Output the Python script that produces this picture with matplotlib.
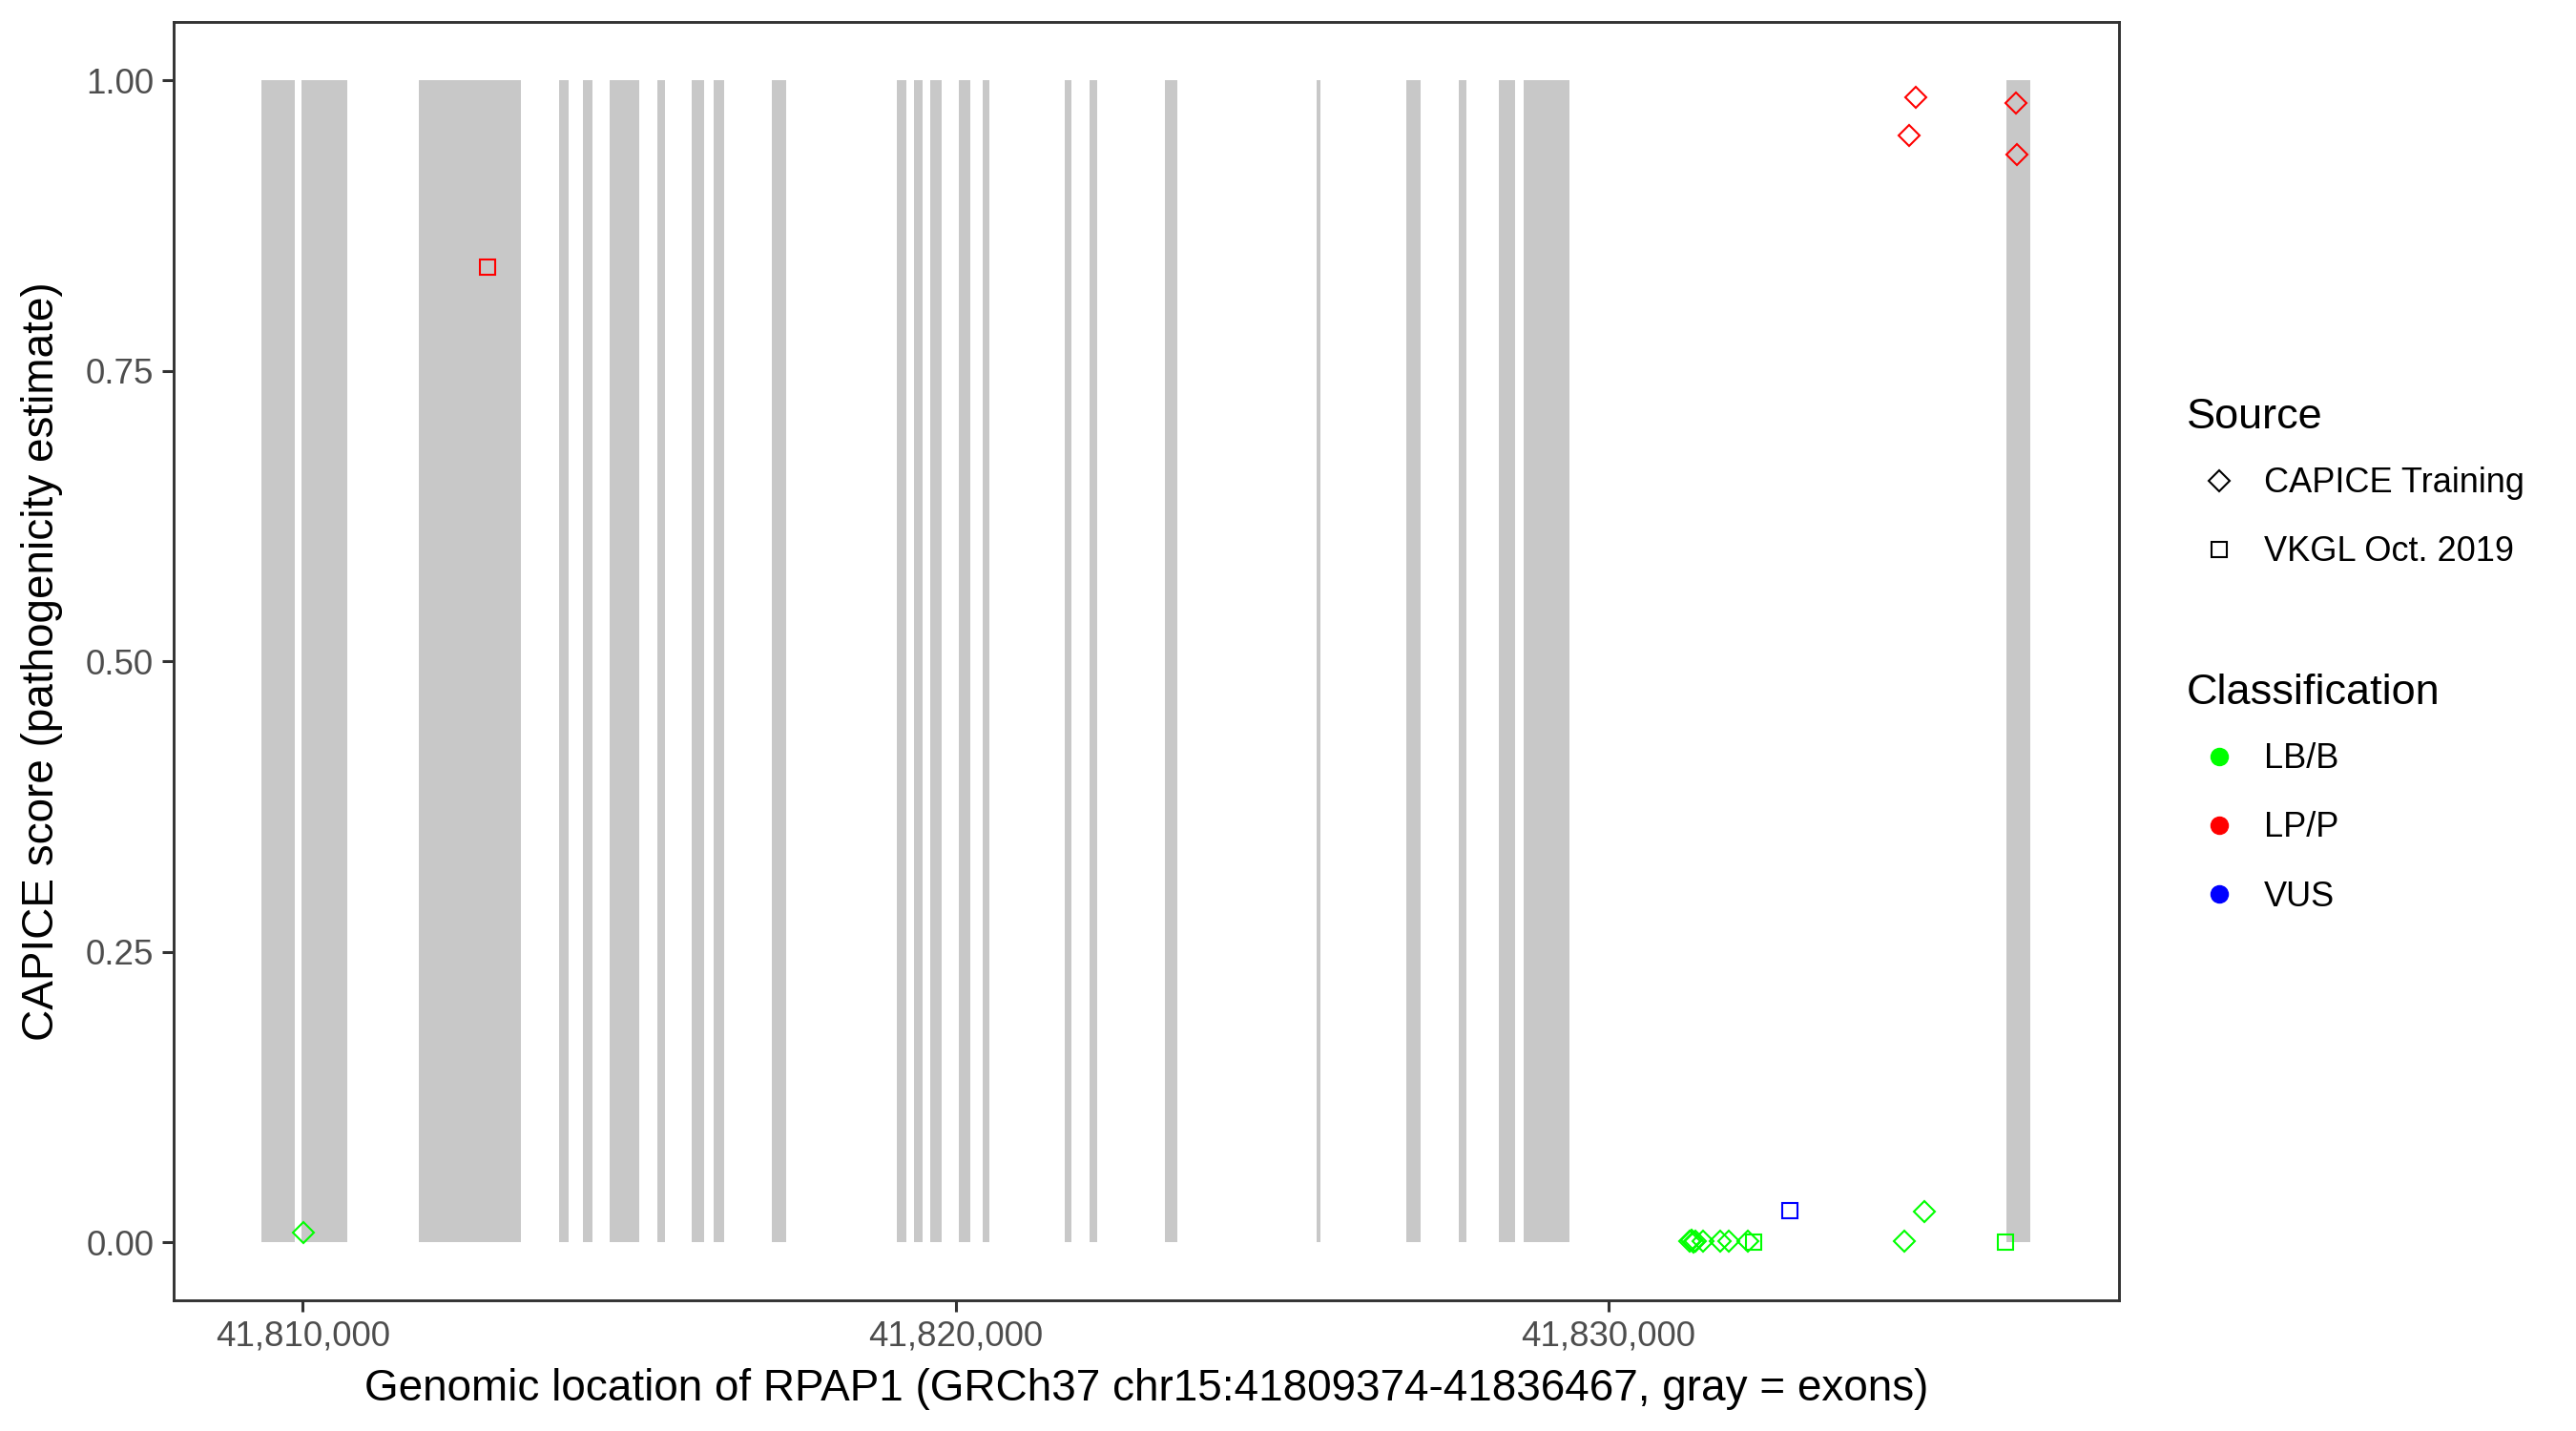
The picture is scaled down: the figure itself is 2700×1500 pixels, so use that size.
import numpy as np
import matplotlib
matplotlib.use("Agg")
import matplotlib.pyplot as plt
from matplotlib.lines import Line2D
from matplotlib.ticker import FuncFormatter

plt.rcParams['font.family'] = ['Liberation Sans', 'DejaVu Sans']

# exons of RPAP1 (GRCh37)
exon_start = [41809374, 41809988, 41811780, 41813924, 41814289, 41814699, 41815429,
              41815958, 41816290, 41817182, 41819098, 41819358, 41819619, 41820055,
              41820420, 41821666, 41822057, 41823210, 41825530, 41826905, 41827710,
              41828320, 41828701, 41836104]
exon_end = [41809883, 41810685, 41813345, 41814074, 41814439, 41815156, 41815547,
            41816153, 41816453, 41817404, 41819254, 41819489, 41819794, 41820219,
            41820524, 41821769, 41822174, 41823399, 41825588, 41827127, 41827822,
            41828566, 41829400, 41836467]

# variants
var_pos = [41810018, 41812829, 41831250, 41831270, 41831300, 41831330, 41831445,
           41831708, 41831844, 41832136, 41832223, 41832784, 41834540, 41834837,
           41836077, 41834705, 41834603, 41836248, 41836263]
var_score = [0.008, 0.839, 0.001, 0.002, 0.000, 0.001, 0.001,
             0.001, 0.001, 0.001, 0.000, 0.027, 0.001, 0.026,
             0.000, 0.985, 0.952, 0.980, 0.936]
var_source = ['CAPICE Training', 'VKGL Oct. 2019', 'CAPICE Training', 'CAPICE Training',
              'CAPICE Training', 'CAPICE Training', 'CAPICE Training', 'CAPICE Training',
              'CAPICE Training', 'CAPICE Training', 'VKGL Oct. 2019', 'VKGL Oct. 2019',
              'CAPICE Training', 'CAPICE Training', 'VKGL Oct. 2019', 'CAPICE Training',
              'CAPICE Training', 'CAPICE Training', 'CAPICE Training']
var_class = ['LB/B', 'LP/P', 'LB/B', 'LB/B', 'LB/B', 'LB/B', 'LB/B',
             'LB/B', 'LB/B', 'LB/B', 'LB/B', 'VUS', 'LB/B', 'LB/B',
             'LB/B', 'LP/P', 'LP/P', 'LP/P', 'LP/P']

sources = ['CAPICE Training', 'VKGL Oct. 2019']
classes = ['LB/B', 'LP/P', 'VUS']
class_colors = {'LB/B': '#00FF00', 'LP/P': '#FF0000', 'VUS': '#0000FF'}
source_markers = {'CAPICE Training': 'D', 'VKGL Oct. 2019': 's'}
source_size = {'CAPICE Training': 11.5, 'VKGL Oct. 2019': 12}

gene_start, gene_end = 41809374, 41836467

fig = plt.figure(figsize=(27, 15), dpi=100)
ax = fig.add_axes([0.0673, 0.0913, 0.7553, 0.8933])

# exons as gray bands
starts = np.array(exon_start)
ends = np.array(exon_end)
ax.bar(starts, np.ones(len(starts)), width=ends - starts, align='edge',
       color='#C8C8C8', linewidth=0, zorder=1)

pos = np.array(var_pos)
score = np.array(var_score)
src = np.array(var_source)
cls = np.array(var_class)
for s in sources:
    for c in classes:
        m = (src == s) & (cls == c)
        if m.any():
            ax.plot(pos[m], score[m], ls='none', marker=source_markers[s],
                    ms=source_size[s], mfc='none', mec=class_colors[c], mew=1.5, zorder=3)

span = gene_end - gene_start
ax.set_xlim(gene_start - 0.05 * span, gene_end + 0.05 * span)
ax.set_ylim(-0.05, 1.05)
ax.set_xticks([41810000, 41820000, 41830000])
ax.xaxis.set_major_formatter(FuncFormatter(lambda v, p: f'{int(v):,}'))
ax.set_yticks([0, 0.25, 0.5, 0.75, 1.0])
ax.yaxis.set_major_formatter(FuncFormatter(lambda v, p: f'{v:.2f}'))
ax.tick_params(axis='both', length=8.8, width=2.2, color='#333333',
               labelsize=26.5, labelcolor='#4D4D4D', pad=6)
for sp in ax.spines.values():
    sp.set_linewidth(2.1)
    sp.set_color('#333333')

ax.set_xlabel('Genomic location of RPAP1 (GRCh37 chr15:41809374-41836467, gray = exons)',
              fontsize=33, labelpad=11)
ax.set_ylabel('CAPICE score (pathogenicity estimate)', fontsize=33, labelpad=17)

# legends
src_handles = [Line2D([], [], ls='none', marker=source_markers[s], ms=source_size[s] * 0.95,
                      mfc='none', mec='black', mew=1.5) for s in sources]
leg1 = fig.legend(src_handles, sources, title='Source', loc='upper left',
                  bbox_to_anchor=(2292 / 2700, 1 - 417 / 1500), frameon=False,
                  fontsize=26, title_fontsize=32.5, borderpad=0, borderaxespad=0,
                  handlelength=1.9, handletextpad=0.35, labelspacing=1.03)
leg1._legend_box.align = 'left'
leg1._legend_box.sep = 22.5
cls_handles = [Line2D([], [], ls='none', marker='o', ms=13, mfc=class_colors[c],
                      mec=class_colors[c]) for c in classes]
leg2 = fig.legend(cls_handles, classes, title='Classification', loc='upper left',
                  bbox_to_anchor=(2292 / 2700, 1 - 706 / 1500), frameon=False,
                  fontsize=26, title_fontsize=32.5, borderpad=0, borderaxespad=0,
                  handlelength=1.9, handletextpad=0.35, labelspacing=1.03)
leg2._legend_box.align = 'left'
leg2._legend_box.sep = 22.5

fig.savefig('out.png', dpi=100)
